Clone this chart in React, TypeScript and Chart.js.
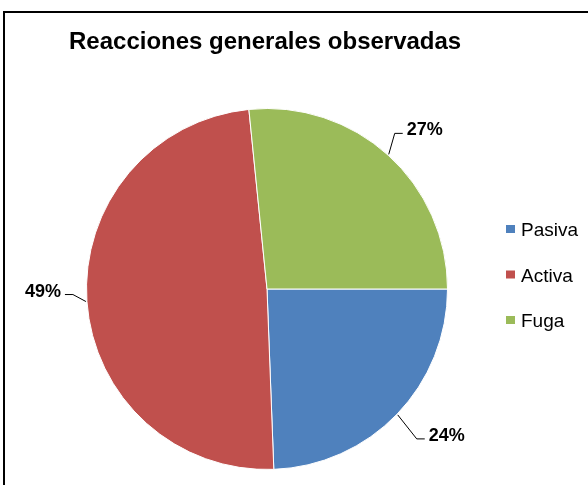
import React, { useEffect, useRef } from "react";
import { Chart, registerables } from "chart.js";

Chart.register(...registerables);

const chartTitle = "Reacciones generales observadas";
const categories = ["Pasiva", "Activa", "Fuga"];
const values = [24.4, 49.0, 26.6];
const percentLabels = ["24%", "49%", "27%"];
const colors = ["#4F81BD", "#C0504D", "#9BBB59"];

// leader line elbow offsets (relative to the slice's mid-arc point) and direction
const leaderElbow = [
  { dx: 19, dy: 24, dir: 1 },
  { dx: -13, dy: -7, dir: -1 },
  { dx: 6, dy: -21, dir: 1 },
];

const decorPlugin = {
  id: "decor",
  beforeDraw(chart: any) {
    const ctx = chart.ctx;
    ctx.save();
    ctx.fillStyle = "#ffffff";
    ctx.fillRect(0, 0, chart.width, chart.height);
    ctx.strokeStyle = "#000000";
    ctx.lineWidth = 2;
    ctx.strokeRect(4, 12, chart.width + 10, chart.height + 10);
    // title
    ctx.fillStyle = "#000000";
    ctx.font = "bold 24px 'Liberation Sans', Arial, sans-serif";
    ctx.textAlign = "left";
    ctx.textBaseline = "alphabetic";
    ctx.fillText(chartTitle, 69, 49);
    ctx.restore();
  },
  afterDatasetsDraw(chart: any) {
    const ctx = chart.ctx;
    const meta = chart.getDatasetMeta(0);
    ctx.save();
    // percentage labels with leader lines
    meta.data.forEach((arc: any, i: number) => {
      const mid = (arc.startAngle + arc.endAngle) / 2;
      const r = arc.outerRadius + 1;
      const px = arc.x + Math.cos(mid) * r;
      const py = arc.y + Math.sin(mid) * r;
      const e = leaderElbow[i];
      const ex = px + e.dx;
      const ey = py + e.dy;
      const hx = ex + e.dir * 8;
      ctx.strokeStyle = "#000000";
      ctx.lineWidth = 1;
      ctx.beginPath();
      ctx.moveTo(px, py);
      ctx.lineTo(ex, ey);
      ctx.lineTo(hx, ey);
      ctx.stroke();
      ctx.fillStyle = "#000000";
      ctx.font = "bold 18px 'Liberation Sans', Arial, sans-serif";
      ctx.textBaseline = "alphabetic";
      ctx.textAlign = e.dir > 0 ? "left" : "right";
      ctx.fillText(percentLabels[i], hx + e.dir * 4, ey + 2);
    });
    // legend
    const legendX = 506;
    const legendY0 = 225;
    const legendStep = 45.5;
    categories.forEach((name, i) => {
      const y = legendY0 + i * legendStep;
      ctx.fillStyle = colors[i];
      ctx.fillRect(legendX, y, 9, 8);
      ctx.fillStyle = "#000000";
      ctx.font = "19px 'Liberation Sans', Arial, sans-serif";
      ctx.textAlign = "left";
      ctx.textBaseline = "alphabetic";
      ctx.fillText(name, 521, y + 11);
    });
    ctx.restore();
  },
};

export default function App() {
  const canvasRef = useRef<HTMLCanvasElement | null>(null);

  useEffect(() => {
    document.body.style.margin = "0";
    const canvas = canvasRef.current;
    if (!canvas) return;
    const chart = new Chart(canvas, {
      type: "pie",
      data: {
        labels: categories,
        datasets: [
          {
            data: values,
            backgroundColor: colors,
            borderColor: "#ffffff",
            borderWidth: 1,
          },
        ],
      },
      options: {
        responsive: false,
        animation: false,
        rotation: 90,
        layout: { padding: { left: 86, right: 140, top: 108, bottom: 15 } },
        plugins: {
          legend: { display: false },
          title: { display: false },
          tooltip: { enabled: false },
        },
      },
      plugins: [decorPlugin],
    });
    return () => chart.destroy();
  }, []);

  return (
    <div style={{ width: 588, height: 485 }}>
      <canvas ref={canvasRef} width={588} height={485} />
    </div>
  );
}
